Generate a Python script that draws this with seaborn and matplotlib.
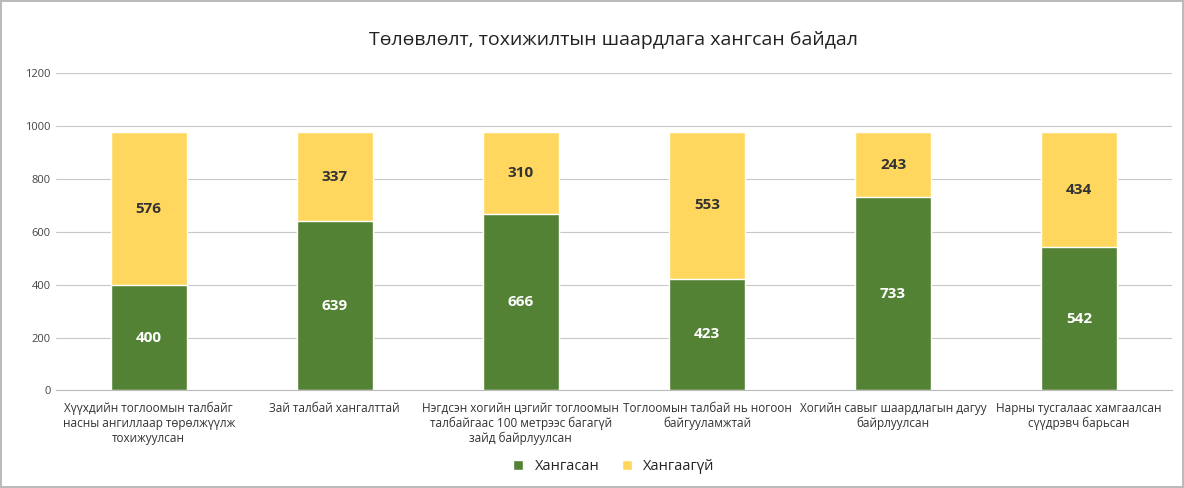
import matplotlib
matplotlib.use('Agg')
import matplotlib.pyplot as plt
import seaborn as sns
import pandas as pd

kategorii = [
    'Хүүхдийн тоглоомын талбайг\nнасны ангиллаар төрөлжүүлж\nтохижуулсан',
    'Зай талбай хангалттай',
    'Нэгдсэн хогийн цэгийг тоглоомын\nталбайгаас 100 метрээс багагүй\nзайд байрлуулсан',
    'Тоглоомын талбай нь ногоон\nбайгууламжтай',
    'Хогийн савыг шаардлагын дагуу\nбайрлуулсан',
    'Нарны тусгалаас хамгаалсан\nсүүдрэвч барьсан',
]
hangasan = [400, 639, 666, 423, 733, 542]
hangaagui = [576, 337, 310, 553, 243, 434]

ZIELONY = '#548235'
ZOLTY = '#FFD75E'

sns.set_style('white')
plt.rcParams['font.family'] = ['Open Sans', 'DejaVu Sans']

dane = pd.DataFrame({'kat': kategorii, 'hangasan': hangasan, 'hangaagui': hangaagui})
dane['suma'] = dane['hangasan'] + dane['hangaagui']

fig, ax = plt.subplots(figsize=(11.84, 4.88), dpi=100)
sns.barplot(x='kat', y='suma', data=dane, color=ZOLTY, width=0.41, ax=ax, saturation=1, label='Хангаагүй')
sns.barplot(x='kat', y='hangasan', data=dane, color=ZIELONY, width=0.41, ax=ax, saturation=1, label='Хангасан')

for i, row in dane.iterrows():
    ax.text(i, row['hangasan'] / 2, str(row['hangasan']), ha='center', va='center',
            color='white', fontsize=11, fontweight='bold')
    ax.text(i, row['hangasan'] + row['hangaagui'] / 2, str(row['hangaagui']), ha='center', va='center',
            color='#333333', fontsize=11, fontweight='bold')

ax.set_ylim(0, 1200)
ax.set_yticks(range(0, 1201, 200))
ax.tick_params(axis='y', labelsize=8, colors='#444444', length=0)
ax.tick_params(axis='x', labelsize=8.5, colors='#333333', length=0, pad=8)
ax.grid(axis='y', color='#c8c8c8', linewidth=0.8)
ax.set_axisbelow(True)
for s in ['top', 'right', 'left']:
    ax.spines[s].set_visible(False)
ax.spines['bottom'].set_color('#bbbbbb')
ax.set_xlabel('')
ax.set_ylabel('')
ax.set_title('Төлөвлөлт, тохижилтын шаардлага хангсан байдал', fontsize=14, color='#222222', pad=20)

uchwyty, etykiety = ax.get_legend_handles_labels()
ax.legend(uchwyty[::-1], etykiety[::-1], loc='center', bbox_to_anchor=(0.5, -0.24), ncol=2,
          frameon=False, fontsize=10.5, handlelength=0.7, handleheight=0.7, columnspacing=1.5)

fig.patch.set_edgecolor('#bbbbbb')
fig.patch.set_linewidth(1.5)
plt.subplots_adjust(left=0.047, right=0.99, top=0.85, bottom=0.2)
plt.savefig('out.png', edgecolor=fig.get_edgecolor())
